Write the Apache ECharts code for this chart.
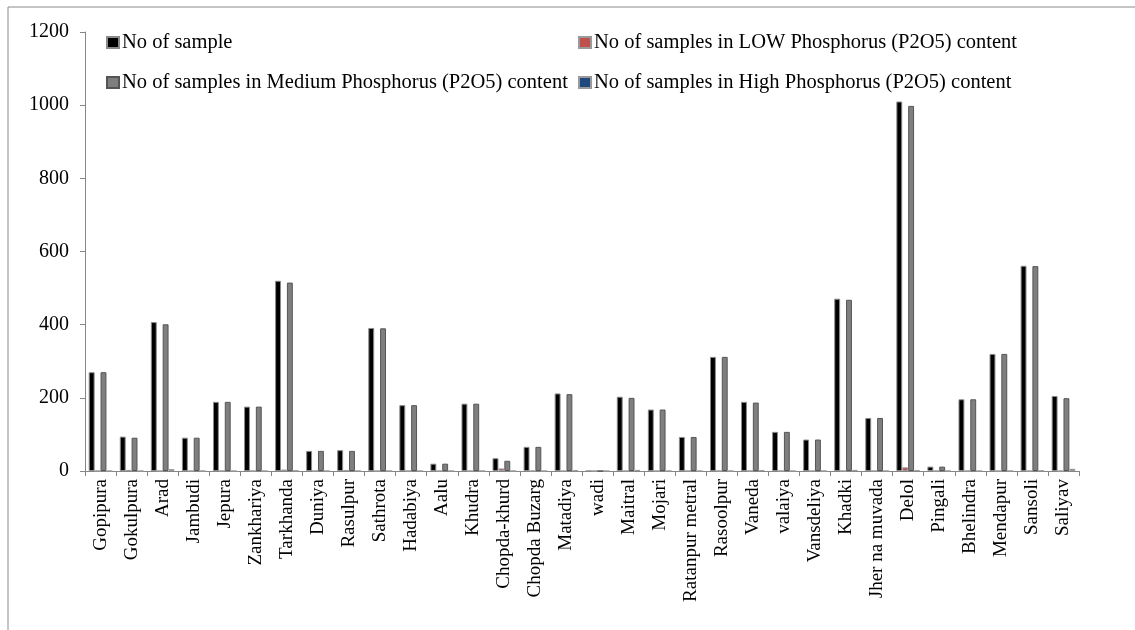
<!DOCTYPE html>
<html>
<head>
<meta charset="utf-8">
<script src="https://cdn.jsdelivr.net/npm/echarts@6/dist/echarts.min.js"></script>
<style>
html,body{margin:0;padding:0;background:#fff;}
#c{width:1135px;height:630px;}
</style>
</head>
<body>
<div id="c"></div>
<script>
const categories = ["Gopipura","Gokulpura","Arad","Jambudi","Jepura","Zankhariya","Tarkhanda","Duniya","Rasulpur","Sathrota","Hadabiya","Aalu","Khudra","Chopda-khurd","Chopda Buzarg","Matadiya","wadi","Maitral","Mojari","Ratanpur metral","Rasoolpur","Vaneda","valaiya","Vansdeliya","Khadki","Jher na muvada","Delol","Pingali","Bhelindra","Mendapur","Sansoli","Saliyav"];
const noOfSample = [270,94,407,91,189,176,520,55,57,391,180,20,184,35,66,212,0,203,168,93,312,189,107,86,471,145,1010,12,196,320,561,205];
const lowP = [0,3,0,0,0,0,4,0,2,0,0,0,0,7,0,0,0,0,0,0,0,0,0,0,0,0,10,0,0,0,0,0];
const mediumP = [270,91,401,91,189,176,515,55,55,390,180,20,184,28,66,210,0,200,168,93,312,187,107,86,468,145,998,12,196,320,560,199];
const highP = [0,0,5,0,0,0,1,0,0,0,0,0,0,0,0,2,0,3,0,0,0,2,0,0,3,0,2,0,0,0,1,6];
const yTicks = [0,200,400,600,800,1000,1200];

const names = [
  "No of sample",
  "No of samples in LOW Phosphorus (P2O5) content",
  "No of samples in Medium Phosphorus (P2O5) content",
  "No of samples in High Phosphorus (P2O5) content"
];
const font = "'Liberation Serif', 'Times New Roman', serif";
const chart = echarts.init(document.getElementById('c'));
const legendBase = {
  itemWidth: 12, itemHeight: 11, itemGap: 0,
  textStyle: {fontFamily: font, fontSize: 20.5, color: '#000', padding: [0,0,0,-2]},
  icon: 'rect', padding: 0
};
chart.setOption({
  animation: false,
  backgroundColor: '#fff',
  graphic: [{
    type: 'rect', shape: {x: 8, y: 7, width: 1140, height: 640},
    style: {fill: 'none', stroke: '#8c8c8c', lineWidth: 1}, silent: true, z: -1
  }],
  legend: [
    Object.assign({}, legendBase, {data: [names[0]], left: 106, top: 32}),
    Object.assign({}, legendBase, {data: [names[1]], left: 578, top: 32}),
    Object.assign({}, legendBase, {data: [names[2]], left: 106, top: 72}),
    Object.assign({}, legendBase, {data: [names[3]], left: 578, top: 72})
  ],
  grid: {left: 85, right: 56, top: 32, bottom: 159, containLabel: false},
  xAxis: {
    type: 'category',
    data: categories,
    axisLine: {lineStyle: {color: '#868686', width: 1}},
    axisTick: {show: true, alignWithLabel: false, length: 5, lineStyle: {color: '#868686'}},
    axisLabel: {rotate: 90, interval: 0, fontFamily: font, fontSize: 19, color: '#000', margin: 8}
  },
  yAxis: {
    type: 'value',
    min: yTicks[0], max: yTicks[yTicks.length-1], interval: 200,
    axisLine: {show: true, lineStyle: {color: '#868686', width: 1}},
    axisTick: {show: true, length: 5, lineStyle: {color: '#868686'}},
    splitLine: {show: false},
    axisLabel: {fontFamily: font, fontSize: 20, color: '#000', margin: 16, formatter: function(v){ return String(v); }}
  },
  series: [
    {name: names[0], type: 'bar', data: noOfSample, barGap: '0%', barCategoryGap: '24%',
     itemStyle: {color: '#000', borderColor: '#8a8a8a', borderWidth: 1}},
    {name: names[1], type: 'bar', data: lowP,
     itemStyle: {color: '#c0504d', borderColor: '#9a9a9a', borderWidth: 1}},
    {name: names[2], type: 'bar', data: mediumP,
     itemStyle: {color: '#7f7f7f', borderColor: '#555', borderWidth: 1}},
    {name: names[3], type: 'bar', data: highP,
     itemStyle: {color: '#1f497d', borderColor: '#9a9a9a', borderWidth: 1}}
  ]
});
</script>
</body>
</html>
